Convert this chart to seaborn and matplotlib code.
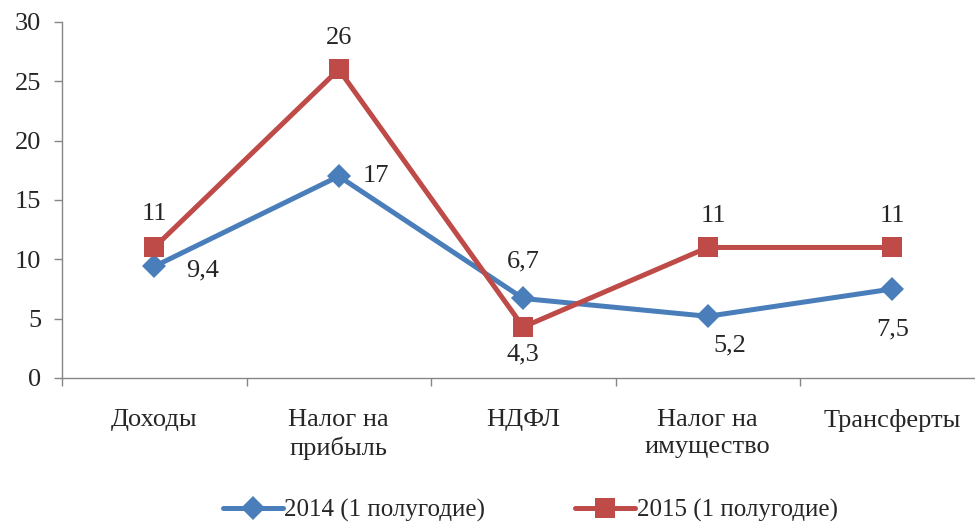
import matplotlib.pyplot as plt
import numpy as np
import pandas as pd
import seaborn as sns

categories = ["Доходы", "Налог на\nприбыль", "НДФЛ", "Налог на\nимущество", "Трансферты"]
vals_2014 = [9.4, 17, 6.7, 5.2, 7.5]
vals_2015 = [11, 26, 4.3, 11, 11]
labels_2014 = ["9,4", "17", "6,7", "5,2", "7,5"]
labels_2015 = ["11", "26", "4,3", "11", "11"]
series = ["2014 (1 полугодие)", "2015 (1 полугодие)"]

# label offsets in points (dx, dy)
off_2014 = [(35, -3), (27, 0), (0, 27), (16, -21), (0, -29)]
off_2015 = [(0, 24), (0, 23), (0, -20), (4, 23), (0, 23)]

pos = np.arange(len(categories))
df = pd.DataFrame({
    "pos": np.concatenate([pos, pos]),
    "value": vals_2014 + vals_2015,
    "series": [series[0]] * len(pos) + [series[1]] * len(pos),
})

sns.set_theme(style="white")
plt.rcParams["font.family"] = ["Liberation Serif", "DejaVu Serif"]
FS = 19

fig = plt.figure(figsize=(9.75, 5.28), dpi=100)
ax = fig.add_axes([62 / 975, 1 - 378 / 528, 922.5 / 975, 356 / 528])

palette = {series[0]: "#4A7EBB", series[1]: "#BE4B48"}
sns.lineplot(data=df, x="pos", y="value", hue="series", style="series",
             markers={series[0]: "D", series[1]: "s"}, dashes=False,
             palette=palette, linewidth=3.6, markersize=14,
             markeredgewidth=0, ax=ax, legend=False)
for line in ax.lines:
    if line.get_marker() == "D":
        line.set_markersize(12)

for i in range(len(pos)):
    ax.annotate(labels_2014[i], (pos[i], vals_2014[i]), xytext=off_2014[i],
                textcoords="offset points", ha="center", va="center", fontsize=FS)
    ax.annotate(labels_2015[i], (pos[i], vals_2015[i]), xytext=off_2015[i],
                textcoords="offset points", ha="center", va="center", fontsize=FS)

ax.set_xlim(-0.5, len(categories) - 0.5)
ax.set_ylim(0, 30)
ax.set_yticks(range(0, 31, 5))
ax.set_xticks(pos)
ax.set_xticklabels(categories, fontsize=FS, linespacing=1.3)
ax.set_xticks(np.arange(-0.5, len(categories), 1), minor=True)
ax.tick_params(axis="x", which="major", bottom=True, length=0, pad=22)
ax.tick_params(axis="x", which="minor", bottom=True, length=6, width=1, color="#868686", direction="out")
ax.tick_params(axis="y", left=True, length=6, width=1, color="#868686", direction="out", labelsize=FS, pad=9)
ax.set_xlabel("")
ax.set_ylabel("")
for s in ["top", "right"]:
    ax.spines[s].set_visible(False)
for s in ["left", "bottom"]:
    ax.spines[s].set_color("#868686")
    ax.spines[s].set_linewidth(1)

handles = [
    plt.Line2D([], [], color=palette[series[0]], lw=3.6, marker="D", ms=12, mew=0),
    plt.Line2D([], [], color=palette[series[1]], lw=3.6, marker="s", ms=14, mew=0),
]
fig.legend(handles, series, loc="lower center", ncol=2, frameon=False,
           fontsize=18, handlelength=2.4, handletextpad=0.05, columnspacing=3.6,
           bbox_to_anchor=(0.544, -0.032))

fig.savefig("out.png", dpi=100)
